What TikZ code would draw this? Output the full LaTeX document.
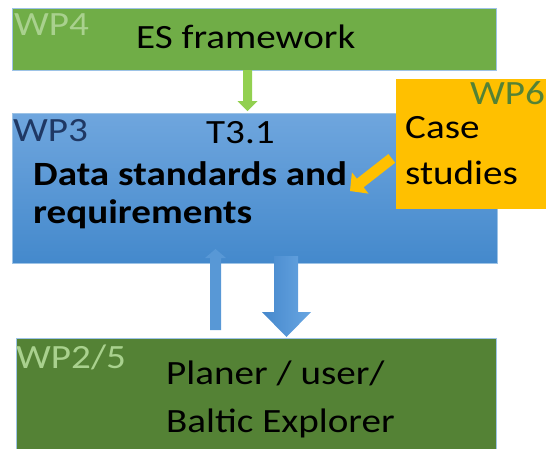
\documentclass[tikz,border=0pt]{standalone}
\usepackage{fontspec}
\setmainfont{Carlito}[FakeStretch=1.15]
\definecolor{wpgreen}{RGB}{112,173,71}
\definecolor{wplight}{RGB}{169,209,142}
\definecolor{wpdark}{RGB}{84,130,53}
\definecolor{wpnavy}{RGB}{31,56,100}
\definecolor{wporange}{RGB}{255,192,0}
\definecolor{bluetop}{RGB}{111,166,222}
\definecolor{bluebot}{RGB}{68,137,204}
\definecolor{outline}{RGB}{157,195,230}
\definecolor{arrgreen}{RGB}{146,208,80}
\definecolor{arrblue}{RGB}{88,152,214}
\definecolor{arrblueL}{RGB}{70,136,204}
\definecolor{arrblueR}{RGB}{104,166,226}
\tikzset{
  box/.style={draw=outline, line width=0.8pt},
  lbl/.style={anchor=base west, inner sep=0pt, font=\fontsize{34}{38}\selectfont},
  lbr/.style={anchor=base east, inner sep=0pt, font=\fontsize{34}{38}\selectfont},
}
\begin{document}
\begin{tikzpicture}[x=1pt,y=-1pt]
\useasboundingbox (0,0) rectangle (546,448);
% boxes
\draw[box, fill=wpgreen] (12,8) rectangle (496,70);
\shade[top color=bluetop, bottom color=bluebot] (12,113) rectangle (497,263);
\draw[outline, line width=0.8pt] (12,113) rectangle (497,263);
\fill[wporange] (396,79) rectangle (560,209);
\draw[box, fill=wpdark] (16,338) rectangle (496,470);
% green arrow
\fill[arrgreen] (243,70) -- (252,70) -- (252,101) -- (257.5,101) -- (247.5,111) -- (237.5,101) -- (243,101) -- cycle;
% orange arrow
\begin{scope}[shift={(350,191)}, rotate=38]
\fill[wporange] (0,0) -- (13,-13.5) -- (13,-5.5) -- (53,-5.5) -- (53,5.5) -- (13,5.5) -- (13,13.5) -- cycle;
\end{scope}
% up arrow
\fill[arrblue] (210,330) -- (221,330) -- (221,258) -- (226,258) -- (215.5,249) -- (205,258) -- (210,258) -- cycle;
% down arrow
\shade[left color=arrblueL, right color=arrblueR] (274,256) -- (298,256) -- (298,312) -- (311,312) -- (286.5,337) -- (262,312) -- (274,312) -- cycle;
% texts
\node[lbl, text=wplight] (wp4) at (14,35) {WP4};
\node[lbl] (es) at (136,48) {ES framework};
\node[lbl, text=wpnavy] (wp3) at (13,141) {WP3};
\node[lbl] (t31) at (206,143) {T3.1};
\node[lbl, align=left, font=\fontsize{34}{38}\selectfont\bfseries] (data) at (33,223) {Data standards and\\requirements};
\node[lbl, align=left, font=\fontsize{34}{46}\selectfont] (case) at (405,184) {Case\\studies};
\node[lbr, text=wpdark] (wp6) at (545,104) {WP6};
\node[lbl, text=wplight] (wp25) at (16,368) {WP2/5};
\node[lbl, align=left, font=\fontsize{34}{48}\selectfont] (plan) at (166,432) {Planer / user/\\Baltic Explorer};
\end{tikzpicture}
\end{document}
